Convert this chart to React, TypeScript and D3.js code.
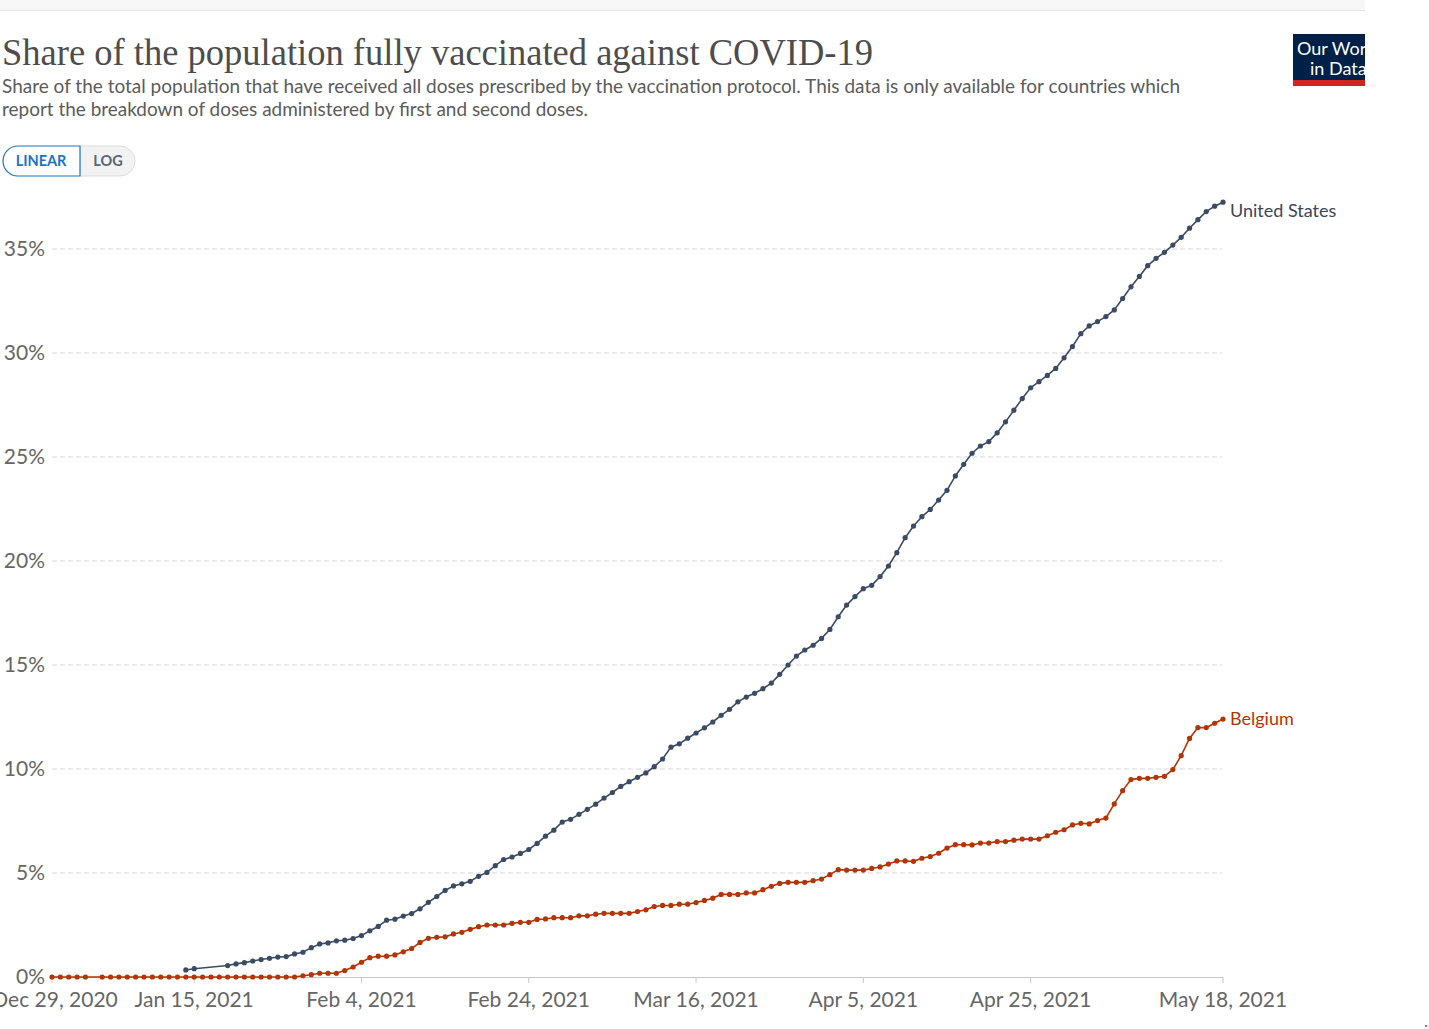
import React from 'react';
import * as d3 from 'd3';

const W = 1429;
const H = 1029;

// values in % of population, one per day from the start date (null = no report)
const usStart = '2021-01-14';
const usValues: (number | null)[] = [
  0.34, 0.40, null, null, null, 0.55, 0.63, 0.69, 0.77, 0.84, 0.90, 0.96, 0.98, 1.11, 1.19, 1.41, 1.59, 1.64,
  1.74, 1.77, 1.85, 1.99, 2.22, 2.43, 2.73, 2.78, 2.93, 3.05, 3.28, 3.59, 3.87, 4.16, 4.38, 4.48, 4.60, 4.84,
  5.03, 5.35, 5.65, 5.77, 5.94, 6.13, 6.42, 6.77, 7.06, 7.45,
  7.58, 7.82, 8.06, 8.31, 8.60, 8.87, 9.16, 9.39, 9.60, 9.81, 10.11, 10.48, 11.05, 11.21, 11.48, 11.73, 11.98,
  12.26, 12.58, 12.87, 13.23, 13.46, 13.64, 13.86, 14.13, 14.55, 15.0, 15.43, 15.72, 15.95, 16.28,
  16.71, 17.32, 17.88, 18.29, 18.67, 18.83, 19.25, 19.76, 20.40, 21.12, 21.68, 22.13, 22.48, 22.93, 23.40,
  24.09, 24.65, 25.18, 25.53, 25.74, 26.16, 26.69, 27.25, 27.81, 28.33, 28.62, 28.92, 29.26, 29.77, 30.31,
  30.93, 31.30, 31.51, 31.75, 32.07, 32.62, 33.18, 33.68, 34.20, 34.55, 34.84, 35.19, 35.56, 36.0, 36.41,
  36.80, 37.06, 37.25,
];

const beStart = '2020-12-29';
const beValues: (number | null)[] = [
  0, 0, 0, 0, 0, null,
  0, 0, 0, 0, 0, 0, 0, 0, 0, 0, 0, 0, 0, 0, 0, 0, 0, 0, 0, 0, 0, 0, 0, 0,
  0.06, 0.11, 0.18, 0.18,
  0.18, 0.31, 0.48, 0.71, 0.93, 1.0, 1.0, 1.06, 1.21, 1.37, 1.66, 1.86, 1.91, 1.93, 2.07, 2.15, 2.29, 2.42,
  2.50, 2.50, 2.50, 2.58, 2.63, 2.63, 2.77, 2.79, 2.85, 2.85,
  2.85, 2.94, 2.94, 3.02, 3.06, 3.06, 3.06, 3.06, 3.15, 3.23, 3.39, 3.44, 3.44, 3.50, 3.50, 3.58, 3.68, 3.79,
  3.97, 3.97, 3.97, 4.04, 4.04, 4.20, 4.36, 4.50, 4.55, 4.55, 4.55, 4.63, 4.71,
  4.92, 5.16, 5.14, 5.14, 5.14, 5.22, 5.29, 5.43, 5.58, 5.58, 5.56, 5.71, 5.79, 5.95, 6.20, 6.36, 6.36, 6.35,
  6.44, 6.44, 6.51, 6.51, 6.58, 6.63, 6.63, 6.63, 6.79, 6.96, 7.08, 7.31,
  7.39, 7.36, 7.52, 7.64, 8.32, 8.96, 9.49, 9.55, 9.55, 9.60, 9.65, 9.97, 10.64, 11.47, 11.99, 11.99, 12.20,
  12.40,
];

const xTicks = ['2020-12-29', '2021-01-15', '2021-02-04', '2021-02-24', '2021-03-16', '2021-04-05', '2021-04-25', '2021-05-18'];
const yTicks = [0, 5, 10, 15, 20, 25, 30, 35];

const parse = d3.utcParse('%Y-%m-%d');
const fmtTick = d3.utcFormat('%b %-d, %Y');

type Pt = { date: Date; value: number };

function toPoints(start: string, values: (number | null)[]): Pt[] {
  const s = parse(start)!;
  return values
    .map((v, i) => ({ date: d3.utcDay.offset(s, i), value: v }))
    .filter((d): d is Pt => d.value !== null);
}

// labelDy: where the end label sits relative to the last point
const series = [
  { name: 'United States', color: '#3b4b63', label: '#3c4656', labelDy: 15, points: toPoints(usStart, usValues) },
  { name: 'Belgium', color: '#b13507', label: '#b13507', labelDy: 6, points: toPoints(beStart, beValues) },
];

const font = 'Lato, "Noto Sans", sans-serif';

export default function App() {
  const x = d3.scaleUtc().domain([parse('2020-12-29')!, parse('2021-05-18')!]).range([52, 1223]);
  const y = d3.scaleLinear().domain([0, 35]).range([977, 249]);
  const line = d3.line<Pt>().x(d => x(d.date)).y(d => y(d.value));

  return (
    <svg width={W} height={H} style={{ position: 'absolute', left: 0, top: 0, background: '#fff' }} fontFamily={font}>
      <defs>
        <clipPath id="page">
          <rect x={0} y={0} width={1365} height={H} />
        </clipPath>
      </defs>

      {/* top strip */}
      <rect x={0} y={0} width={1365} height={10} fill="#f7f7f7" />
      <line x1={0} x2={1365} y1={10.5} y2={10.5} stroke="#e6e6e6" />

      {/* header */}
      <text x={2} y={65} fontFamily='"Liberation Serif", "DejaVu Serif", serif' fontSize={37} fill="#4d4d4d"
        textLength={871} lengthAdjust="spacingAndGlyphs">
        Share of the population fully vaccinated against COVID-19
      </text>
      <text x={2} y={93} fontSize={19} fill="#5b5b5b" textLength={1178} lengthAdjust="spacingAndGlyphs">
        Share of the total population that have received all doses prescribed by the vaccination protocol. This data is only available for countries which
      </text>
      <text x={2} y={116} fontSize={19} fill="#5b5b5b" textLength={586} lengthAdjust="spacingAndGlyphs">
        report the breakdown of doses administered by first and second doses.
      </text>

      {/* logo */}
      <g clipPath="url(#page)">
        <rect x={1293} y={34} width={90} height={47} fill="#002147" />
        <rect x={1293} y={80} width={90} height={6} fill="#ce261e" />
        <text x={1297} y={55} fontSize={18} fill="#fff">Our World</text>
        <text x={1310} y={75} fontSize={18} fill="#fff">in Data</text>
      </g>

      {/* linear / log toggle */}
      <path d="M135,161 a15,15 0 0 1 -15,15 h-40 v-30 h40 a15,15 0 0 1 15,15 z" fill="#f2f2f2" stroke="#dcdcdc" />
      <path d="M80,146 h-62 a15,15 0 0 0 0,30 h62 z" fill="#fff" stroke="#1d72c4" strokeWidth={1.2} />
      <text x={41} y={166} textAnchor="middle" fontSize={14.5} fontWeight={700} fill="#1d72c4">LINEAR</text>
      <text x={108} y={166} textAnchor="middle" fontSize={14.5} fontWeight={700} fill="#5a6472">LOG</text>

      {/* grid + y axis */}
      {yTicks.map(t => (
        <g key={t}>
          {t > 0 && (
            <line x1={52} x2={1222} y1={y(t)} y2={y(t)} stroke="#d6d6d6" strokeDasharray="5,3" />
          )}
          <text x={45} y={y(t) + 7} textAnchor="end" fontSize={21} fill="#666">{t}%</text>
        </g>
      ))}

      {/* x axis */}
      <line x1={52} x2={1223} y1={977.5} y2={977.5} stroke="#c8c8c8" />
      {xTicks.map(t => {
        const d = parse(t)!;
        return (
          <g key={t}>
            <line x1={x(d)} x2={x(d)} y1={977} y2={983} stroke="#c8c8c8" />
            <text x={x(d) + (t === xTicks[0] ? 3 : 0)} y={1007} textAnchor="middle" fontSize={21} fill="#666">
              {fmtTick(d)}
            </text>
          </g>
        );
      })}

      {/* series */}
      {series.map(s => {
        const last = s.points[s.points.length - 1];
        return (
          <g key={s.name}>
            <path d={line(s.points) ?? ''} fill="none" stroke={s.color} strokeWidth={1.6} />
            {s.points.map((p, i) => (
              <circle key={i} cx={x(p.date)} cy={y(p.value)} r={2.6} fill={s.color} />
            ))}
            <text x={x(last.date) + 7} y={y(last.value) + s.labelDy} fontSize={18} fill={s.label}>{s.name}</text>
          </g>
        );
      })}

      <circle cx={1426} cy={1026} r={1} fill="#e22" />
    </svg>
  );
}
